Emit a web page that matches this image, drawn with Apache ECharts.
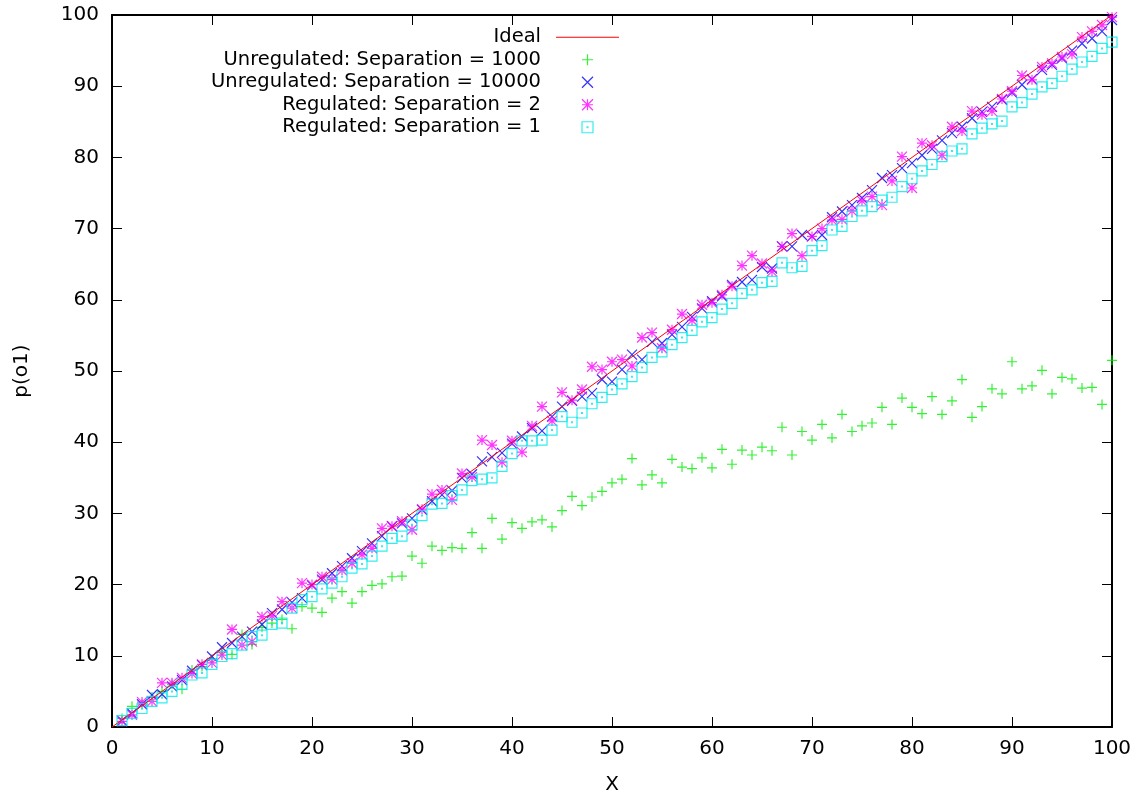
<!DOCTYPE html>
<html>
<head>
<meta charset="utf-8">
<script src="https://cdn.jsdelivr.net/npm/echarts@6/dist/echarts.min.js"></script>
<style>
  html, body { margin: 0; padding: 0; background: #ffffff; }
  #chart { width: 1143px; height: 796px; }
</style>
</head>
<body>
<div id="chart"></div>
<script>
// Sample positions X = 1..100
const xs = [1,2,3,4,5,6,7,8,9,10,11,12,13,14,15,16,17,18,19,20,
  21,22,23,24,25,26,27,28,29,30,31,32,33,34,35,36,37,38,39,40,
  41,42,43,44,45,46,47,48,49,50,51,52,53,54,55,56,57,58,59,60,
  61,62,63,64,65,66,67,68,69,70,71,72,73,74,75,76,77,78,79,80,
  81,82,83,84,85,86,87,88,89,90,91,92,93,94,95,96,97,98,99,100];

// Ideal reference line end points
const idealX = [0, 100];
const idealY = [0, 100];

// Unregulated: Separation = 1000
const unreg1000 = [1.2,2.9,3.2,4.2,5.0,6.0,5.3,8.0,8.5,9.5,
  10.5,10.2,13.0,11.6,14.0,14.6,15.1,13.8,16.9,16.7,
  16.1,18.1,19.0,17.4,19.0,19.9,20.1,21.1,21.2,24.0,
  23.0,25.4,24.8,25.2,25.1,27.3,25.1,29.3,26.4,28.7,
  27.9,28.8,29.1,28.1,30.4,32.4,31.1,32.3,33.1,34.3,
  34.8,37.7,34.0,35.4,34.3,37.6,36.5,36.3,37.8,36.4,
  39.0,36.9,38.9,38.2,39.3,38.8,42.1,38.2,41.5,40.3,
  42.5,40.6,43.9,41.5,42.3,42.7,44.9,42.5,46.2,44.9,
  44.0,46.4,43.9,45.8,48.8,43.5,45.0,47.5,46.8,51.3,
  47.5,47.9,50.1,46.8,49.1,48.9,47.6,47.7,45.3,51.5];

// Unregulated: Separation = 10000
const unreg10000 = [0.9,1.9,3.2,4.5,4.6,5.7,6.6,7.9,8.7,9.9,
  11.2,11.8,12.7,13.4,14.4,16.0,16.5,17.5,18.1,19.9,
  20.7,21.6,22.6,23.7,24.7,25.8,26.8,28.2,28.6,29.3,
  30.5,31.7,32.6,33.2,35.0,35.5,37.3,37.9,38.5,39.8,
  40.8,42.0,41.6,43.6,45.0,45.8,46.4,46.9,48.8,48.5,
  50.2,52.3,51.6,54.1,53.9,55.1,56.2,57.6,58.8,59.8,
  60.5,62.1,62.5,62.8,64.6,64.4,67.5,67.5,69.1,68.9,
  69.1,71.6,72.4,73.3,74.3,75.4,77.1,77.5,78.5,79.2,
  80.3,81.2,82.4,83.4,84.3,85.5,86.4,87.1,88.1,89.1,
  90.2,91.0,92.3,93.0,93.9,95.0,96.0,96.7,97.7,99.3];

// Regulated: Separation = 2
const reg2 = [0.8,1.7,3.5,3.6,6.2,6.2,6.9,7.5,8.8,9.0,
  10.1,13.7,11.5,12.0,15.5,15.6,17.6,16.7,20.2,20.0,
  21.1,20.7,22.0,23.0,24.2,25.1,27.9,28.2,28.9,27.7,
  30.6,32.7,33.3,31.9,35.6,35.1,40.3,39.6,37.2,40.2,
  38.6,42.3,45.0,43.0,47.0,45.9,47.4,50.6,50.2,51.3,
  51.6,50.7,54.7,55.4,53.2,55.8,58.0,57.1,59.3,59.6,
  60.7,61.9,64.8,66.2,65.1,64.0,67.5,69.3,66.2,68.9,
  70.0,71.2,71.3,72.5,73.9,74.5,73.3,76.7,80.1,75.7,
  82.0,81.7,80.3,84.3,83.7,86.5,86.0,86.5,88.2,89.3,
  91.5,90.9,92.7,93.2,94.1,94.5,96.9,97.7,98.6,99.7];

// Regulated: Separation = 1
const reg1 = [0.9,1.9,2.6,3.6,4.1,5.0,6.0,7.3,7.6,8.8,
  9.9,10.3,11.5,12.7,12.9,14.4,14.6,16.7,17.9,18.3,
  19.4,20.2,21.1,22.3,22.9,24.0,25.4,26.5,26.8,28.4,
  29.7,31.3,31.4,32.5,33.3,34.6,34.8,35.0,36.6,38.4,
  40.2,40.2,40.3,41.7,43.6,42.8,44.1,45.4,46.3,47.4,
  48.2,49.2,50.5,51.9,52.7,53.7,54.7,55.7,56.9,57.5,
  58.7,59.5,60.9,61.4,62.4,62.6,65.2,64.5,64.7,66.9,
  67.6,69.8,70.3,71.7,72.5,73.1,74.0,74.4,75.9,77.0,
  78.1,79.0,80.1,80.9,81.2,83.3,84.1,84.7,85.1,87.1,
  87.7,88.9,89.9,90.4,91.4,92.4,93.4,94.2,95.3,96.2];

const seriesNames = [
  'Ideal',
  'Unregulated: Separation = 1000',
  'Unregulated: Separation = 10000',
  'Regulated: Separation = 2',
  'Regulated: Separation = 1'
];

// Point glyphs: plus, cross, asterisk, box with centre dot
const SYM_PLUS = 'path://M5 0L5 10M0 5L10 5';
const SYM_CROSS = 'path://M0 0L10 10M10 0L0 10';
const SYM_STAR = 'path://M5 0L5 10M0 5L10 5M0 0L10 10M10 0L0 10';
const SYM_BOX = 'path://M0 0L10 0L10 10L0 10ZM4.6 4.6L5.4 4.6L5.4 5.4L4.6 5.4Z';
// Thin bar used as the key sample of the reference line
const SYM_LINE_KEY = 'path://M0 0L63 0L63 1.2L0 1.2Z';

const FONT = 'DejaVu Sans';

function pairs(xv, yv) {
  return xv.map((x, i) => [x, yv[i]]);
}

function pointSeries(name, ys, symbol, color, size) {
  return {
    name: name,
    type: 'scatter',
    data: pairs(xs, ys),
    symbol: symbol,
    symbolSize: size,
    itemStyle: { color: 'rgba(0,0,0,0)', borderColor: color, borderWidth: 1.2 },
    emphasis: { disabled: true },
    xAxisIndex: 0,
    yAxisIndex: 0
  };
}

const chart = echarts.init(document.getElementById('chart'), null, { renderer: 'canvas' });

const tickLabels = { fontFamily: FONT, fontSize: 20, color: '#000' };

const legendData = seriesNames.map((n, i) => i === 0
  ? { name: n, icon: SYM_LINE_KEY, itemStyle: { color: '#ff0000', borderWidth: 0 } }
  : { name: n });

chart.setOption({
  animation: false,
  backgroundColor: '#ffffff',
  grid: { left: 112, right: 31, top: 15, bottom: 69, containLabel: false, outerBoundsMode: 'none' },
  legend: {
    orient: 'vertical',
    align: 'right',
    right: 524,
    top: 26,
    padding: 0,
    itemWidth: 63,
    itemHeight: 11,
    itemGap: 0,
    selectedMode: false,
    data: legendData,
    itemStyle: { borderWidth: 1.2 },
    textStyle: { fontFamily: FONT, fontSize: 19.5, color: '#000', lineHeight: 22.5, padding: [0, 10, 0, 0] }
  },
  xAxis: [
    {
      type: 'value', min: 0, max: 100, interval: 10,
      name: 'X', nameLocation: 'middle', nameGap: 48,
      nameTextStyle: { fontFamily: FONT, fontSize: 20, color: '#000' },
      axisLine: { show: true, onZero: false, lineStyle: { color: '#000', width: 2 } },
      axisTick: { show: true, inside: true, length: 10, lineStyle: { color: '#000', width: 1 } },
      axisLabel: Object.assign({ margin: 12 }, tickLabels),
      splitLine: { show: false }
    },
    {
      type: 'value', min: 0, max: 100, interval: 10, position: 'top',
      axisLine: { show: true, onZero: false, lineStyle: { color: '#000', width: 2 } },
      axisTick: { show: true, inside: true, length: 10, lineStyle: { color: '#000', width: 1 } },
      axisLabel: { show: false },
      splitLine: { show: false }
    }
  ],
  yAxis: [
    {
      type: 'value', min: 0, max: 100, interval: 10,
      name: 'p(o1)', nameLocation: 'middle', nameGap: 80, nameRotate: 90,
      nameTextStyle: { fontFamily: FONT, fontSize: 20, color: '#000' },
      axisLine: { show: true, onZero: false, lineStyle: { color: '#000', width: 2 } },
      axisTick: { show: true, inside: true, length: 10, lineStyle: { color: '#000', width: 1 } },
      axisLabel: Object.assign({ margin: 13 }, tickLabels),
      splitLine: { show: false }
    },
    {
      type: 'value', min: 0, max: 100, interval: 10, position: 'right',
      axisLine: { show: true, onZero: false, lineStyle: { color: '#000', width: 2 } },
      axisTick: { show: true, inside: true, length: 10, lineStyle: { color: '#000', width: 1 } },
      axisLabel: { show: false },
      splitLine: { show: false }
    }
  ],
  series: [
    {
      name: seriesNames[0],
      type: 'line',
      data: pairs(idealX, idealY),
      symbol: 'none',
      showSymbol: false,
      lineStyle: { color: '#ff0000', width: 1 },
      itemStyle: { color: '#ff0000' },
      emphasis: { disabled: true },
      xAxisIndex: 0,
      yAxisIndex: 0
    },
    pointSeries(seriesNames[1], unreg1000, SYM_PLUS, '#00ee00', 10),
    pointSeries(seriesNames[2], unreg10000, SYM_CROSS, '#0000ff', 10),
    pointSeries(seriesNames[3], reg2, SYM_STAR, '#ff00ff', 10),
    pointSeries(seriesNames[4], reg1, SYM_BOX, '#00e8e8', 10)
  ]
});
</script>
</body>
</html>
